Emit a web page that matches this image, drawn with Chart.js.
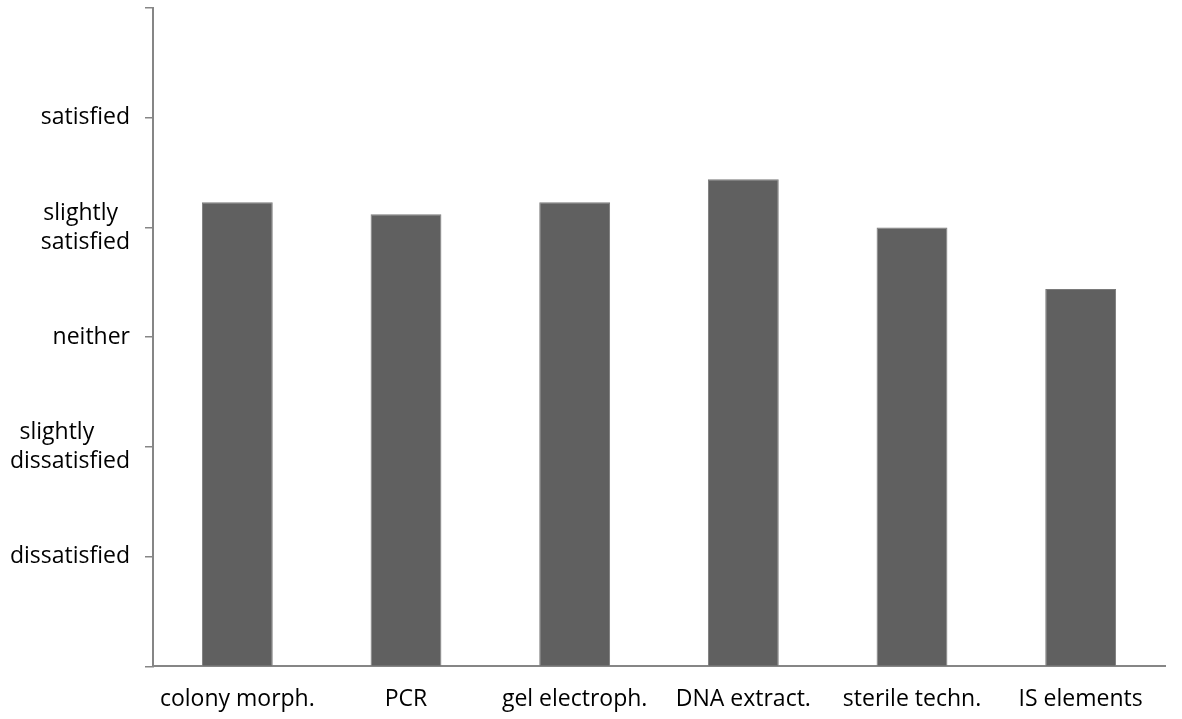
<!DOCTYPE html>
<html>
<head>
<meta charset="utf-8">
<script src="https://cdn.jsdelivr.net/npm/chart.js@4"></script>
<style>
	html, body { margin: 0; padding: 0; background: #fff; }
	#wrap { width: 1182px; height: 719px; }
</style>
</head>
<body>
<div id="wrap"><canvas id="cntx_survey"></canvas></div>
<script>
const task_labels = ["colony morph.", "PCR", "gel electroph.", "DNA extract.", "sterile techn.", "IS elements"];
const task_scores = [4.23, 4.12, 4.23, 4.44, 4.0, 3.44];
// rating names for 0..6, trailing spaces keep the short first line centred over the second
const rating_labels = ["", "dissatisfied", ["slightly      ", "dissatisfied"], "neither", ["slightly  ", "satisfied"], "satisfied", ""];

const axis_grey = "#868686";

const survey_cntx = document.querySelector("#cntx_survey");
new Chart(survey_cntx, {
	type: "bar",
	data: {
		labels: task_labels,
		datasets: [
			{
				label: "satisfaction",
				data: task_scores,
				backgroundColor: "#606060",
				borderColor: "#7a7a7a",
				borderWidth: 1,
				categoryPercentage: 1,
				barPercentage: 0.42,
			},
		],
	},
	options: {
		responsive: true,
		maintainAspectRatio: false,
		animation: false,
		layout: { padding: { top: 8, right: 17, bottom: -5, left: 0 } },
		plugins: { legend: { display: false }, tooltip: { enabled: false } },
		scales: {
			x: {
				grid: { display: false },
				border: { display: true, color: axis_grey, width: 2 },
				ticks: { color: "#000", font: { family: "Open Sans", size: 23 }, padding: 11 },
			},
			y: {
				min: 0,
				max: 6,
				afterFit: (scale) => {
					scale.width = 153;
					// top label is blank, so no room needed above the axis
					scale.paddingTop = 0;
				},
				grid: { drawOnChartArea: false, drawTicks: true, tickLength: 8, color: axis_grey, lineWidth: 1.5 },
				border: { display: true, color: axis_grey, width: 2 },
				ticks: {
					stepSize: 1,
					color: "#000",
					padding: 15,
					font: { family: "Open Sans", size: 23, lineHeight: 1.26 },
					callback: (value) => rating_labels[value],
				},
			},
		},
	},
});
</script>
</body>
</html>
